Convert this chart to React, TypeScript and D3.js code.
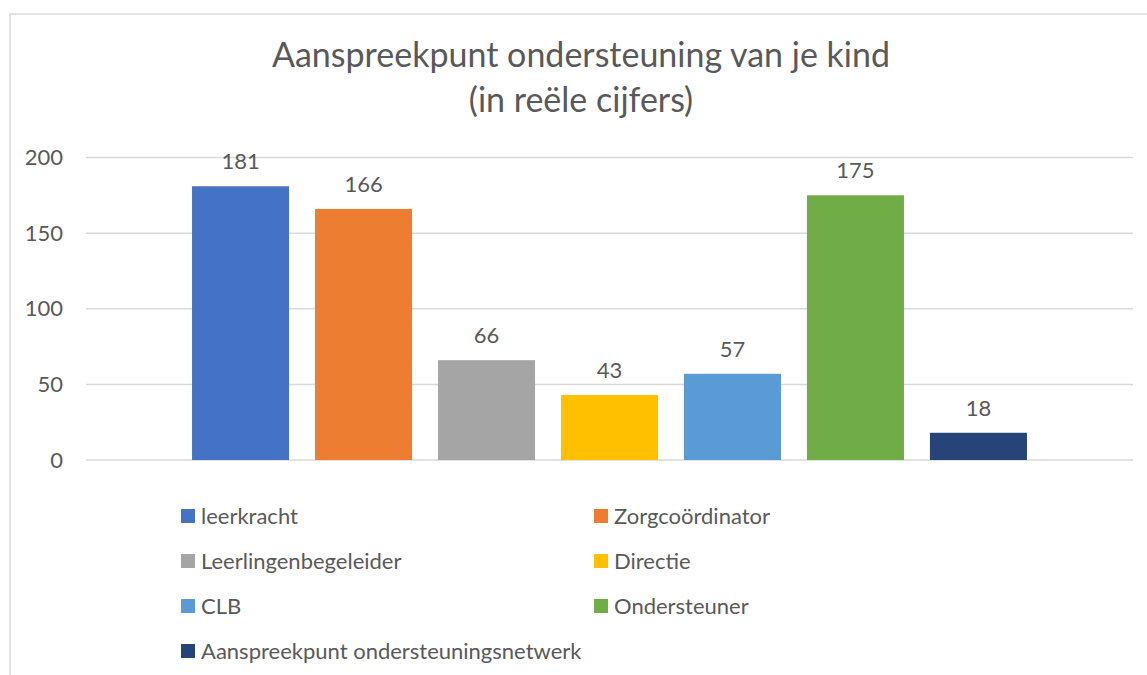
import * as d3 from "d3";
import { useEffect, useRef } from "react";

const series = [
  "leerkracht",
  "Zorgcoördinator",
  "Leerlingenbegeleider",
  "Directie",
  "CLB",
  "Ondersteuner",
  "Aanspreekpunt ondersteuningsnetwerk",
];
const values = [181, 166, 66, 43, 57, 175, 18];
const colors = ["#4472C4", "#ED7D31", "#A5A5A5", "#FFC000", "#5B9BD5", "#70AD47", "#264478"];
const yTicks = [0, 50, 100, 150, 200];
const titleLines = ["Aanspreekpunt ondersteuning van je kind", "(in reële cijfers)"];

const FONT = "Lato, 'Open Sans', sans-serif";
const TEXT = "#595959";
const GRID = "#d9d9d9";

export default function App() {
  const svgRef = useRef<SVGSVGElement | null>(null);

  useEffect(() => {
    if (!svgRef.current) return;
    const svg = d3.select(svgRef.current);
    svg.selectAll("*").remove();

    const totalW = 1147;
    const totalH = 675;
    const plot = { left: 86, right: 1133, top: 157.5, bottom: 460 };

    svg.append("rect").attr("width", totalW).attr("height", totalH).attr("fill", "#fff");

    // chart area border (only top and left visible in the crop)
    svg.append("path")
      .attr("d", `M10,${totalH + 2}V14H${totalW + 2}`)
      .attr("fill", "none")
      .attr("stroke", GRID)
      .attr("stroke-width", 1.5);

    // title
    const title = svg.append("text")
      .attr("text-anchor", "middle")
      .attr("font-family", FONT)
      .attr("font-size", 34)
      .attr("fill", TEXT);
    titleLines.forEach((t, i) => {
      title.append("tspan").attr("x", 581).attr("y", 67 + i * 45).text(t);
    });

    const y = d3.scaleLinear().domain([0, 200]).range([plot.bottom, plot.top]);

    // single category, series clustered inside it
    const xCat = d3.scaleBand<string>()
      .domain(["cat"])
      .range([plot.left, plot.right])
      .paddingOuter(0.127);
    const xSeries = d3.scaleBand<string>()
      .domain(series)
      .range([0, xCat.bandwidth()])
      .paddingInner(0.211)
      .paddingOuter(0);
    const x0 = xCat("cat")!;

    // gridlines
    svg.append("g")
      .selectAll("line")
      .data(yTicks)
      .join("line")
      .attr("x1", plot.left)
      .attr("x2", plot.right)
      .attr("y1", (d) => y(d))
      .attr("y2", (d) => y(d))
      .attr("stroke", GRID)
      .attr("stroke-width", 1.5);

    // y axis labels
    const yAxis = svg.append("g")
      .attr("transform", `translate(${plot.left - 14},0)`)
      .call(d3.axisLeft(y).tickValues(yTicks).tickSize(0).tickPadding(9));
    yAxis.select(".domain").remove();
    yAxis.selectAll("text")
      .attr("font-family", FONT)
      .attr("font-size", 22)
      .attr("fill", TEXT);

    // bars
    svg.append("g")
      .selectAll("rect")
      .data(values)
      .join("rect")
      .attr("x", (d, i) => x0 + xSeries(series[i])!)
      .attr("y", (d) => y(d))
      .attr("width", xSeries.bandwidth())
      .attr("height", (d) => y(0) - y(d))
      .attr("fill", (d, i) => colors[i]);

    // data labels
    svg.append("g")
      .selectAll("text")
      .data(values)
      .join("text")
      .attr("x", (d, i) => x0 + xSeries(series[i])! + xSeries.bandwidth() / 2)
      .attr("y", (d) => y(d) - 17)
      .attr("text-anchor", "middle")
      .attr("font-family", FONT)
      .attr("font-size", 22)
      .attr("fill", TEXT)
      .text((d) => d);

    // legend, two columns
    const colX = [181, 594];
    const legend = svg.append("g")
      .selectAll("g")
      .data(series)
      .join("g")
      .attr("transform", (d, i) => `translate(${colX[i % 2]},${516 + Math.floor(i / 2) * 45})`);
    legend.append("rect")
      .attr("y", -7)
      .attr("width", 14)
      .attr("height", 14)
      .attr("fill", (d, i) => colors[i]);
    legend.append("text")
      .attr("x", 20)
      .attr("dy", "0.35em")
      .attr("font-family", FONT)
      .attr("font-size", 22)
      .attr("fill", TEXT)
      .text((d) => d);
  }, []);

  return (
    <svg
      ref={svgRef}
      width={1147}
      height={675}
      style={{ position: "absolute", left: 0, top: 0, display: "block" }}
    />
  );
}
